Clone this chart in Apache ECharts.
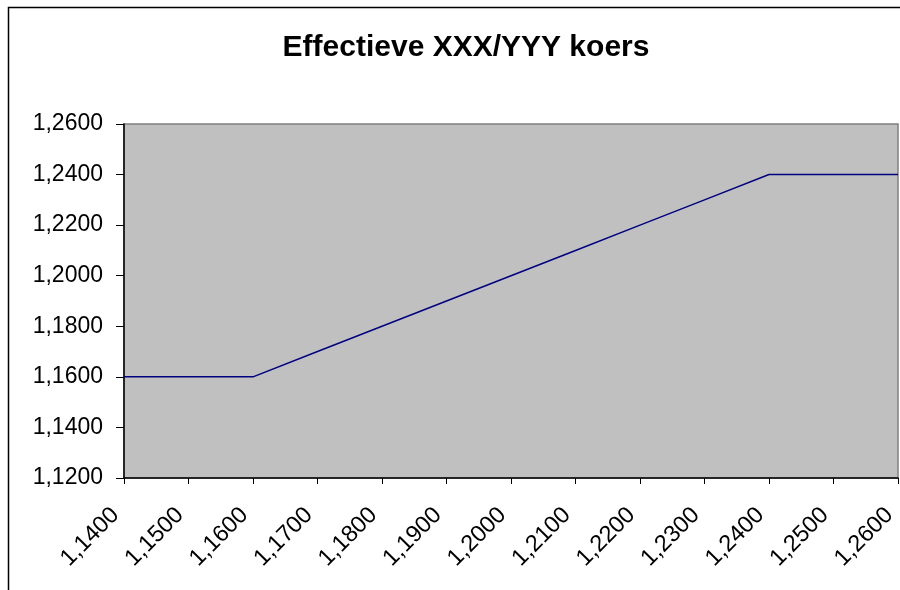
<!DOCTYPE html>
<html><head><meta charset="utf-8">
<script src="https://cdn.jsdelivr.net/npm/echarts@6/dist/echarts.min.js"></script>
<style>html,body{margin:0;padding:0;background:#fff}#c{width:900px;height:590px}</style>
</head><body><div id="c"></div>
<script>
const title = 'Effectieve XXX/YYY koers';
const categories = ['1,1400','1,1500','1,1600','1,1700','1,1800','1,1900','1,2000','1,2100','1,2200','1,2300','1,2400','1,2500','1,2600'];
const rates = [1.16, 1.16, 1.16, 1.17, 1.18, 1.19, 1.20, 1.21, 1.22, 1.23, 1.24, 1.24, 1.24];
const yMin = 1.12, yMax = 1.26, yStep = 0.02;

const chart = echarts.init(document.getElementById('c'), null, {renderer:'canvas'});
const font = 'Liberation Sans, Arial, sans-serif';
chart.setOption({
  animation: false,
  backgroundColor: '#fff',
  graphic: [{
    type: 'rect', silent: true, z: 100,
    shape: {x: 8.5, y: 7.5, width: 1000, height: 1000},
    style: {fill: 'none', stroke: '#000', lineWidth: 1.5}
  }],
  title: {
    text: title, left: 461, top: 28, textAlign: 'center',
    textStyle: {fontFamily: font, fontSize: 30, fontWeight: 'bold', color: '#000'}
  },
  grid: {left: 124, right: 2, top: 124, bottom: 112, containLabel: false, outerBoundsMode: 'none',
    show: true, backgroundColor: '#c0c0c0', borderColor: '#808080', borderWidth: 1.5},
  xAxis: {
    type: 'category', data: categories, boundaryGap: false,
    axisLine: {lineStyle: {color: '#000', width: 1.5}},
    axisTick: {show: true, length: 6, lineStyle: {color: '#000'}},
    axisLabel: {rotate: 45, margin: 25, padding: [0, 12, 0, 0], fontFamily: font, fontSize: 23.5, color: '#000', interval: 0, hideOverlap: false},
    splitLine: {show: false}
  },
  yAxis: {
    type: 'value', min: yMin, max: yMax, interval: yStep,
    axisLine: {show: true, lineStyle: {color: '#000', width: 1.5}},
    axisTick: {show: true, length: 8, lineStyle: {color: '#000'}},
    axisLabel: {margin: 21, fontFamily: font, fontSize: 23, color: '#000',
      formatter: v => v.toFixed(4).replace('.', ',')},
    splitLine: {show: false}
  },
  series: [{
    type: 'line', data: rates, symbol: 'none',
    lineStyle: {color: '#000080', width: 1.5}
  }]
});
</script></body></html>
